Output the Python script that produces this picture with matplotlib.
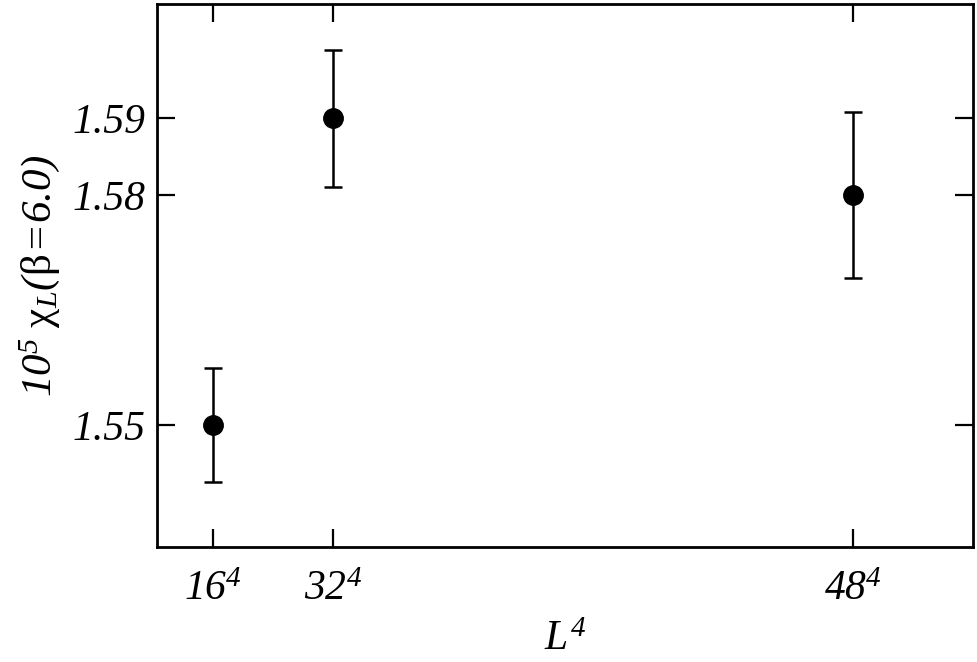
# Import libraries
import numpy as np
import matplotlib.pyplot as plt

# Fonts: Times-like italic text; upright Greek letters come from the sf slot
plt.rcParams['font.family'] = 'Liberation Serif'
plt.rcParams['font.style'] = 'italic'
plt.rcParams['mathtext.fontset'] = 'custom'
plt.rcParams['mathtext.rm'] = 'Liberation Serif:italic'
plt.rcParams['mathtext.it'] = 'Liberation Serif:italic'
plt.rcParams['mathtext.sf'] = 'Liberation Serif:style=normal'

# Data
lattice = [16, 32, 48]
chi = [1.550, 1.590, 1.580]
chi_err = [0.0074, 0.0089, 0.0108]
y_ticks = [1.55, 1.58, 1.59]

x = np.array(lattice, dtype=float) ** 4

# Create figure and axes
fig = plt.figure(figsize=(9.77, 6.62), dpi=100)
ax = fig.add_axes([0.1607, 0.1737, 0.8349, 0.8203])

# Points with error bars
ax.errorbar(x, chi, yerr=chi_err, fmt='o', color='black',
            markersize=14, elinewidth=1.8, capsize=6.5, capthick=1.8)

ax.set_xlim(-392000, 6292000)
ax.set_ylim(1.5341, 1.6049)

# Ticks inside on all four sides
ax.set_xticks(x)
ax.set_xticklabels([r'$\mathit{%d}^{\mathit{4}}$' % n for n in lattice])
ax.set_yticks(y_ticks)
ax.set_yticklabels(['%.2f' % v for v in y_ticks])
ax.tick_params(direction='in', length=13, width=1.6, labelsize=30,
               top=True, right=True)
ax.tick_params(axis='x', pad=17)
ax.tick_params(axis='y', pad=8)

for s in ax.spines.values():
    s.set_linewidth(2.0)

# Axis labels
ax.set_xlabel(r'$\mathit{L}^{\mathit{4}}$', fontsize=30, labelpad=8)
ax.set_ylabel(r'$\mathit{10}^{\mathit{5}}\ \mathsf{χ}_{\mathit{L}}'
              r'\mathit{(}\mathsf{β}\!=\!\mathit{6.0)}$',
              fontsize=31, labelpad=8)

fig.savefig('out.png', dpi=100)
